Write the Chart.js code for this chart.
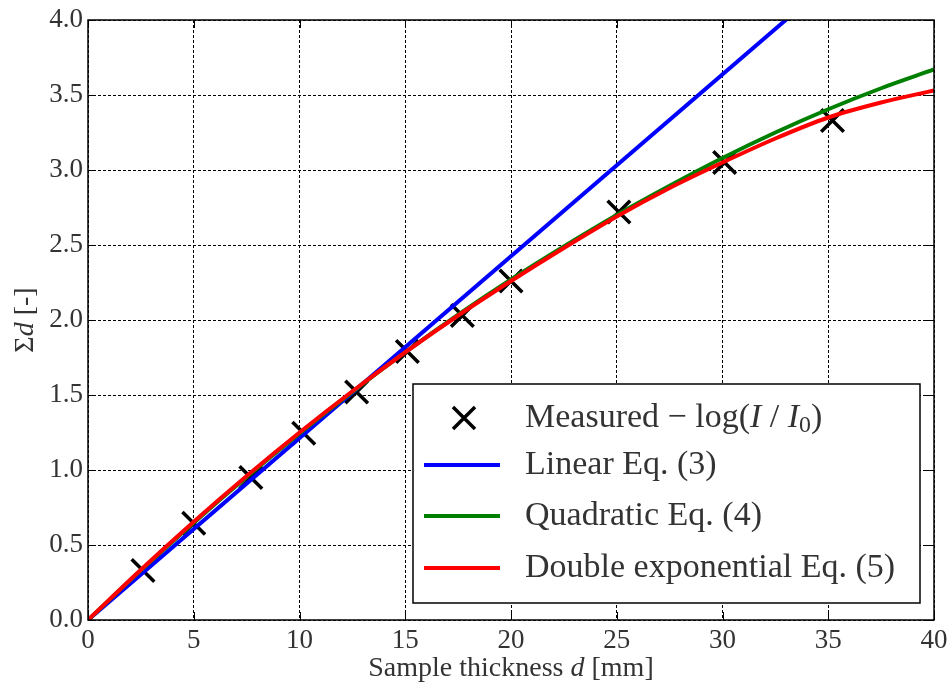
<!DOCTYPE html>
<html>
<head>
<meta charset="utf-8">
<script src="https://cdn.jsdelivr.net/npm/chart.js@4.4.0/dist/chart.umd.min.js"></script>
<style>
  body { margin: 0; background: #fff; }
  #wrap { width: 951px; height: 690px; }
</style>
</head>
<body>
<div id="wrap"><canvas id="fitCanvas"></canvas></div>
<script>
// measured points
const measX = [2.6, 5.0, 7.7, 10.2, 12.7, 15.1, 17.7, 20.0, 25.1, 30.1, 35.2];
const measY = [0.33, 0.645, 0.95, 1.245, 1.52, 1.79, 2.03, 2.26, 2.72, 3.05, 3.33];

// fitted curves
const linX = [0, 40];
const linY = [0, 4.85];
const curveX = [0, 2.5, 5, 7.5, 10, 12.5, 15, 17.5, 20, 22.5, 25, 27.5, 30, 32.5, 35, 37.5, 40];
const quadY = [0, 0.331, 0.649, 0.953, 1.244, 1.521, 1.785, 2.035, 2.27, 2.49, 2.70, 2.895, 3.08, 3.25, 3.405, 3.545, 3.67];
const dexpY = [0, 0.335, 0.655, 0.96, 1.25, 1.525, 1.785, 2.03, 2.26, 2.48, 2.69, 2.88, 3.05, 3.21, 3.35, 3.45, 3.53];

const xTicks = [0, 5, 10, 15, 20, 25, 30, 35, 40];
const yTicks = [0, 0.5, 1, 1.5, 2, 2.5, 3, 3.5, 4];

const FONT = "'Liberation Serif', serif";

function pts(xs, ys) {
    return xs.map((x, i) => ({ x: x, y: ys[i] }));
}

// draw a list of [text, style] runs starting at x
function drawRuns(ctx, runs, x, y, size) {
    runs.forEach(r => {
        let s = size, dy = 0;
        if (r[1] === 'sub') { s = size * 0.7; dy = size * 0.22; }
        ctx.font = (r[1] === 'i' ? 'italic ' : '') + s + 'px ' + FONT;
        ctx.fillText(r[0], x, y + dy);
        x += ctx.measureText(r[0]).width;
    });
}
function runsWidth(ctx, runs, size) {
    let w = 0;
    runs.forEach(r => {
        let s = r[1] === 'sub' ? size * 0.7 : size;
        ctx.font = (r[1] === 'i' ? 'italic ' : '') + s + 'px ' + FONT;
        w += ctx.measureText(r[0]).width;
    });
    return w;
}

const legendRuns = [
    [['Measured \u2212 log(', ''], ['I', 'i'], [' / ', ''], ['I', 'i'], ['0', 'sub'], [')', '']],
    [['Linear Eq. (3)', '']],
    [['Quadratic Eq. (4)', '']],
    [['Double exponential Eq. (5)', '']]
];

const framePlugin = {
    id: 'frame',
    afterDatasetsDraw(chart) {
        const ctx = chart.ctx;
        const a = chart.chartArea;
        const xs = chart.scales.x, ys = chart.scales.y;
        ctx.save();
        ctx.strokeStyle = '#000';
        ctx.lineWidth = 1;
        // inward ticks
        xTicks.forEach(v => {
            const px = Math.round(xs.getPixelForValue(v)) + 0.5;
            ctx.beginPath();
            ctx.moveTo(px, a.bottom); ctx.lineTo(px, a.bottom - 8);
            ctx.moveTo(px, a.top); ctx.lineTo(px, a.top + 8);
            ctx.stroke();
        });
        yTicks.forEach(v => {
            const py = Math.round(ys.getPixelForValue(v)) + 0.5;
            ctx.beginPath();
            ctx.moveTo(a.left, py); ctx.lineTo(a.left + 8, py);
            ctx.moveTo(a.right, py); ctx.lineTo(a.right - 8, py);
            ctx.stroke();
        });
        ctx.lineWidth = 1.5;
        ctx.strokeRect(a.left, a.top, a.right - a.left, a.bottom - a.top);
        ctx.restore();
    },
    afterDraw(chart) {
        const ctx = chart.ctx;
        const a = chart.chartArea;
        ctx.save();
        ctx.fillStyle = '#333';
        ctx.textBaseline = 'middle';
        ctx.textAlign = 'left';

        // x title
        const xr = [['Sample thickness ', ''], ['d', 'i'], [' [mm]', '']];
        const xw = runsWidth(ctx, xr, 28);
        drawRuns(ctx, xr, (a.left + a.right) / 2 - xw / 2, 669, 28);

        // y title
        const yr = [['\u03a3', ''], ['d', 'i'], [' [-]', '']];
        const yw = runsWidth(ctx, yr, 28);
        ctx.save();
        ctx.translate(26, (a.top + a.bottom) / 2);
        ctx.rotate(-Math.PI / 2);
        drawRuns(ctx, yr, -yw / 2, 0, 28);
        ctx.restore();

        // legend box
        const bx = 413, by = 384, bw = 507, bh = 219;
        ctx.fillStyle = '#fff';
        ctx.fillRect(bx, by, bw, bh);
        ctx.strokeStyle = '#000';
        ctx.lineWidth = 1.5;
        ctx.strokeRect(bx, by, bw, bh);
        const rows = [418, 465, 516, 568];
        const ds = chart.data.datasets;
        rows.forEach((ry, i) => {
            const d = ds[i];
            ctx.strokeStyle = d.borderColor;
            if (i === 0) {
                ctx.lineWidth = 3.5;
                ctx.beginPath();
                ctx.moveTo(453, ry - 11); ctx.lineTo(475, ry + 11);
                ctx.moveTo(475, ry - 11); ctx.lineTo(453, ry + 11);
                ctx.stroke();
            } else {
                ctx.lineWidth = 4;
                ctx.beginPath();
                ctx.moveTo(424, ry); ctx.lineTo(500, ry);
                ctx.stroke();
            }
            ctx.fillStyle = '#333';
            drawRuns(ctx, legendRuns[i], 525, ry, 34);
        });
        ctx.restore();
    }
};

const fitCanvas = document.getElementById('fitCanvas');
const fitChart = new Chart(fitCanvas, {
    type: 'scatter',
    data: {
        datasets: [{
            label: 'Measured \u2212log(I/I0)',
            data: pts(measX, measY),
            pointStyle: 'crossRot',
            pointRadius: 16,
            pointBorderWidth: 3.5,
            borderColor: '#000',
            backgroundColor: '#000',
            order: 4
        }, {
            label: 'Linear Eq. (3)',
            data: pts(linX, linY),
            showLine: true,
            borderColor: '#0000ff',
            borderWidth: 4,
            pointRadius: 0,
            clip: 0,
            order: 3
        }, {
            label: 'Quadratic Eq. (4)',
            data: pts(curveX, quadY),
            showLine: true,
            borderColor: '#008000',
            borderWidth: 4,
            pointRadius: 0,
            cubicInterpolationMode: 'monotone',
            order: 2
        }, {
            label: 'Double exponential Eq. (5)',
            data: pts(curveX, dexpY),
            showLine: true,
            borderColor: '#ff0000',
            borderWidth: 4,
            pointRadius: 0,
            cubicInterpolationMode: 'monotone',
            order: 1
        }]
    },
    options: {
        responsive: true,
        maintainAspectRatio: false,
        animation: false,
        layout: { autoPadding: false, padding: { top: 20, right: 17, left: 0, bottom: 0 } },
        plugins: {
            legend: { display: false },
            tooltip: { enabled: false }
        },
        scales: {
            x: {
                type: 'linear',
                min: 0,
                max: 40,
                afterFit(scale) {
                    scale.height = 70;
                    scale.paddingLeft = 0;
                    scale.paddingRight = 0;
                },
                afterBuildTicks(scale) { scale.ticks = xTicks.map(v => ({ value: v })); },
                ticks: {
                    color: '#333',
                    padding: 5,
                    maxRotation: 0,
                    font: { family: FONT, size: 27 },
                    callback: v => String(v)
                },
                grid: { color: '#000', lineWidth: 1, drawTicks: false },
                border: { display: false, dash: [3, 2] }
            },
            y: {
                type: 'linear',
                min: 0,
                max: 4,
                afterFit(scale) {
                    scale.width = 88;
                    scale.paddingTop = 0;
                    scale.paddingBottom = 0;
                },
                afterBuildTicks(scale) { scale.ticks = yTicks.map(v => ({ value: v })); },
                ticks: {
                    color: '#333',
                    padding: 5,
                    font: { family: FONT, size: 27 },
                    callback: v => v.toFixed(1)
                },
                grid: { color: '#000', lineWidth: 1, drawTicks: false },
                border: { display: false, dash: [3, 2] }
            }
        }
    },
    plugins: [framePlugin]
});
</script>
</body>
</html>
